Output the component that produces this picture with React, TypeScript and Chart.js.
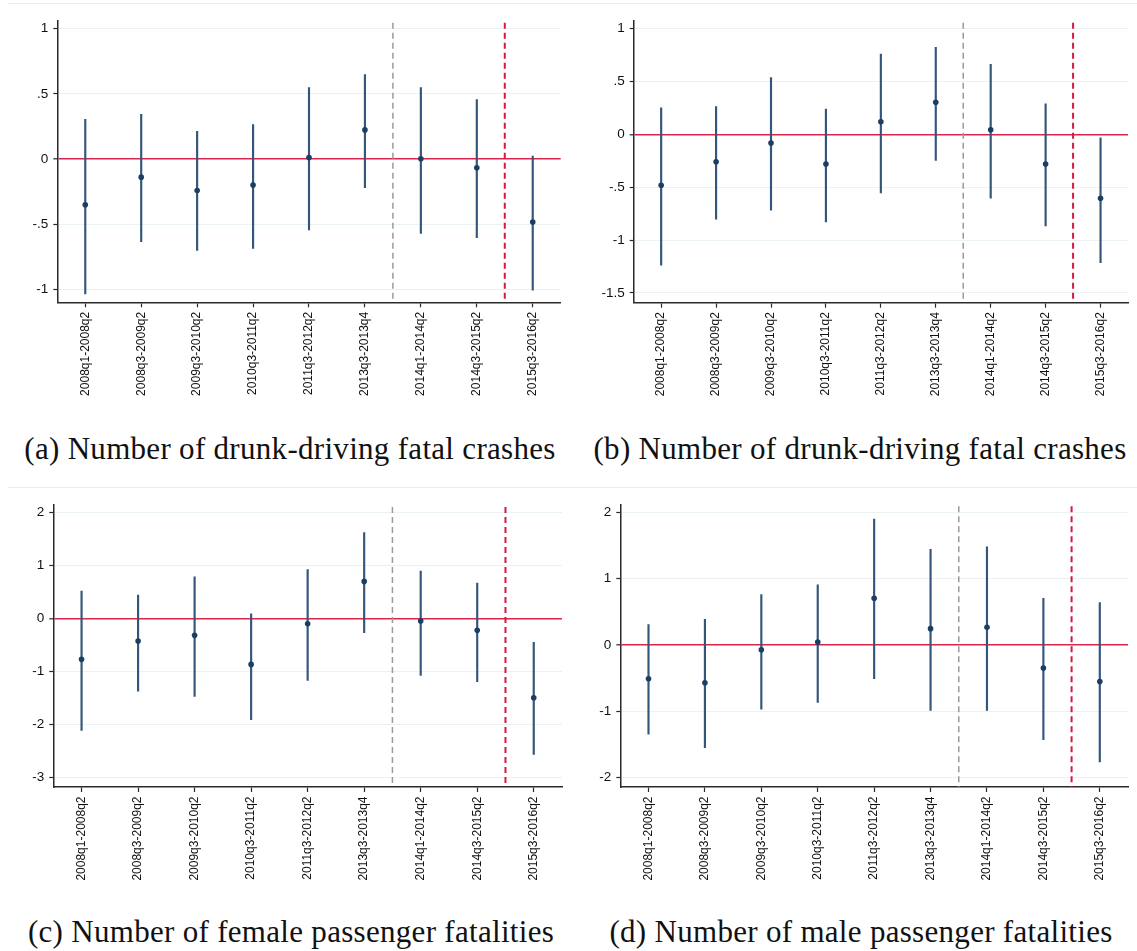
import React, { useEffect, useRef } from "react";
import { Chart, registerables } from "chart.js";

Chart.register(...registerables);

// ---------- data ----------
const categories = [
  "2008q1-2008q2",
  "2008q3-2009q2",
  "2009q3-2010q2",
  "2010q3-2011q2",
  "2011q3-2012q2",
  "2013q3-2013q4",
  "2014q1-2014q2",
  "2014q3-2015q2",
  "2015q3-2016q2",
];

// (a) drunk-driving fatal crashes
const aEstimate = [-0.35, -0.138, -0.24, -0.199, 0.013, 0.224, 0.003, -0.066, -0.482];
const aUpper = [0.306, 0.344, 0.214, 0.265, 0.548, 0.648, 0.548, 0.457, 0.023];
const aLower = [-1.033, -0.633, -0.7, -0.684, -0.543, -0.219, -0.569, -0.602, -1.005];
const aTicks = [-1, -0.5, 0, 0.5, 1];
const aTickLabels = ["-1", "-.5", "0", ".5", "1"];

// (b) drunk-driving fatal crashes
const bEstimate = [-0.481, -0.258, -0.082, -0.28, 0.119, 0.305, 0.044, -0.28, -0.604];
const bUpper = [0.252, 0.264, 0.538, 0.239, 0.761, 0.824, 0.664, 0.289, -0.031];
const bLower = [-1.236, -0.802, -0.717, -0.827, -0.553, -0.245, -0.604, -0.865, -1.214];
const bTicks = [-1.5, -1, -0.5, 0, 0.5, 1];
const bTickLabels = ["-1.5", "-1", "-.5", "0", ".5", "1"];

// (c) female passenger fatalities
const cEstimate = [-0.767, -0.421, -0.314, -0.862, -0.094, 0.704, -0.044, -0.22, -1.491];
const cUpper = [0.522, 0.447, 0.792, 0.094, 0.925, 1.623, 0.899, 0.673, -0.447];
const cLower = [-2.107, -1.365, -1.465, -1.906, -1.164, -0.264, -1.069, -1.189, -2.56];
const cTicks = [-3, -2, -1, 0, 1, 2];
const cTickLabels = ["-3", "-2", "-1", "0", "1", "2"];

// (d) male passenger fatalities
const dEstimate = [-0.509, -0.569, -0.071, 0.045, 0.705, 0.247, 0.267, -0.348, -0.549];
const dUpper = [0.307, 0.388, 0.761, 0.907, 1.899, 1.441, 1.481, 0.705, 0.64];
const dLower = [-1.345, -1.547, -0.967, -0.866, -0.509, -0.987, -0.987, -1.426, -1.763];
const dTicks = [-2, -1, 0, 1, 2];
const dTickLabels = ["-2", "-1", "0", "1", "2"];

const captions = [
  "(a) Number of drunk-driving fatal crashes",
  "(b) Number of drunk-driving fatal crashes",
  "(c) Number of female passenger fatalities",
  "(d) Number of male passenger fatalities",
];

// ---------- styles ----------
const SANS = "'Liberation Sans', Arial, sans-serif";
const SERIF = "'Liberation Serif', 'Times New Roman', serif";
const AXIS = "#2a2a2a";
const GRID = "#eaf2f3";
const ZERO = "#d9244c";
const BAR = "#34567a";
const DOT = "#1a3f63";
const GRAYDASH = "#9a9a9a";
const REDDASH = "#d8173f";

const markerPlugin = {
  id: "markers",
  beforeDatasetsDraw(chart: any, _args: any, opts: any) {
    const { ctx, chartArea, scales } = chart;
    const x = scales.x;
    (opts.lines || []).forEach((m: any) => {
      const px = (x.getPixelForValue(m.after) + x.getPixelForValue(m.after + 1)) / 2;
      ctx.save();
      ctx.strokeStyle = m.color;
      ctx.lineWidth = m.width;
      ctx.setLineDash(m.dash);
      ctx.beginPath();
      ctx.moveTo(px, chartArea.top + 2);
      ctx.lineTo(px, chartArea.bottom);
      ctx.stroke();
      ctx.restore();
    });
  },
};

type Geom = {
  left: number;
  top: number;
  width: number;
  height: number;
  yAxisW: number;
  padTop: number;
  padRight: number;
  xAxisH: number;
  min: number;
  max: number;
};

type Spec = {
  est: number[];
  upper: number[];
  lower: number[];
  ticks: number[];
  tickLabels: string[];
  geom: Geom;
};

const specs: Spec[] = [
  {
    est: aEstimate, upper: aUpper, lower: aLower, ticks: aTicks, tickLabels: aTickLabels,
    geom: { left: 0, top: 0, width: 568, height: 420, yAxisW: 57.3, padTop: 20.7, padRight: 7.3, xAxisH: 117.7, min: -1.097, max: 1.061 },
  },
  {
    est: bEstimate, upper: bUpper, lower: bLower, ticks: bTicks, tickLabels: bTickLabels,
    geom: { left: 568, top: 0, width: 569, height: 420, yAxisW: 65.7, padTop: 20.7, padRight: 9, xAxisH: 117.3, min: -1.592, max: 1.076 },
  },
  {
    est: cEstimate, upper: cUpper, lower: cLower, ticks: cTicks, tickLabels: cTickLabels,
    geom: { left: 0, top: 484, width: 568, height: 420, yAxisW: 53.3, padTop: 21, padRight: 6, xAxisH: 117, min: -3.175, max: 2.145 },
  },
  {
    est: dEstimate, upper: dUpper, lower: dLower, ticks: dTicks, tickLabels: dTickLabels,
    geom: { left: 568, top: 484, width: 569, height: 420, yAxisW: 52.3, padTop: 20.3, padRight: 9, xAxisH: 117, min: -2.14, max: 2.121 },
  },
];

function Panel({ spec }: { spec: Spec }) {
  const ref = useRef<HTMLCanvasElement>(null);
  useEffect(() => {
    const g = spec.geom;
    const chart = new Chart(ref.current as HTMLCanvasElement, {
      type: "bar",
      data: {
        labels: categories,
        datasets: [
          {
            type: "bar",
            data: spec.lower.map((l, i) => [l, spec.upper[i]]) as any,
            backgroundColor: BAR,
            barThickness: 1.5,
            borderWidth: 0,
            order: 2,
          } as any,
          {
            type: "line",
            data: spec.est,
            showLine: false,
            pointRadius: 2.8,
            pointBackgroundColor: DOT,
            pointBorderWidth: 0,
            order: 1,
          } as any,
        ],
      },
      options: {
        responsive: false,
        animation: false,
        layout: { padding: { top: g.padTop, right: g.padRight, left: 0, bottom: 0 } },
        plugins: {
          legend: { display: false },
          tooltip: { enabled: false },
          markers: {
            lines: [
              { after: 5, color: GRAYDASH, width: 1.5, dash: [6, 4] },
              { after: 7, color: REDDASH, width: 2, dash: [6, 4] },
            ],
          },
        } as any,
        scales: {
          x: {
            type: "category",
            offset: true,
            grid: {
              display: true,
              drawOnChartArea: false,
              drawTicks: true,
              tickLength: 5,
              tickColor: AXIS,
              tickWidth: 1.2,
              offset: false,
            },
            border: { display: true, color: AXIS, width: 1.5 },
            ticks: {
              autoSkip: false,
              maxRotation: 90,
              minRotation: 90,
              padding: 4.5,
              color: "#111",
              font: { size: 12, family: SANS },
            },
            afterFit: (s: any) => {
              s.height = g.xAxisH;
            },
          },
          y: {
            type: "linear",
            min: g.min,
            max: g.max,
            afterBuildTicks: (s: any) => {
              s.ticks = spec.ticks.map((v) => ({ value: v }));
            },
            ticks: {
              callback: (v: any) => spec.tickLabels[spec.ticks.indexOf(Number(v))],
              padding: 5,
              color: "#111",
              font: { size: 13.5, family: SANS },
            },
            grid: {
              color: (ctx: any) => (ctx.tick && ctx.tick.value === 0 ? ZERO : GRID),
              lineWidth: (ctx: any) => (ctx.tick && ctx.tick.value === 0 ? 1.6 : 1),
              tickColor: AXIS,
              tickLength: 4,
              tickWidth: 1.2,
            },
            border: { display: true, color: AXIS, width: 1.5 },
            afterFit: (s: any) => {
              s.width = g.yAxisW;
            },
          },
        },
      } as any,
      plugins: [markerPlugin],
    });
    return () => chart.destroy();
  }, [spec]);

  const g = spec.geom;
  return (
    <canvas
      ref={ref}
      width={g.width}
      height={g.height}
      style={{ position: "absolute", left: g.left, top: g.top, width: g.width, height: g.height }}
    />
  );
}

const captionPos = [
  { cx: 290, cy: 449 },
  { cx: 860, cy: 449 },
  { cx: 291, cy: 932 },
  { cx: 861, cy: 932 },
];

export default function App() {
  return (
    <div style={{ position: "absolute", left: 0, top: 0, width: 1137, height: 951, background: "#fff", overflow: "hidden" }}>
      <div style={{ position: "absolute", left: 8, top: 3, width: 1129, height: 1, background: "#e8eeee" }} />
      <div style={{ position: "absolute", left: 8, top: 487, width: 1129, height: 1, background: "#e8eeee" }} />
      {specs.map((s, i) => (
        <Panel key={i} spec={s} />
      ))}
      {captions.map((c, i) => (
        <div
          key={"c" + i}
          style={{
            position: "absolute",
            left: captionPos[i].cx - 300,
            width: 600,
            top: captionPos[i].cy - 18,
            height: 36,
            lineHeight: "36px",
            textAlign: "center",
            fontFamily: SERIF,
            fontSize: 31,
            letterSpacing: "0.3px",
            color: "#111",
            whiteSpace: "nowrap",
          }}
        >
          {c}
        </div>
      ))}
    </div>
  );
}
